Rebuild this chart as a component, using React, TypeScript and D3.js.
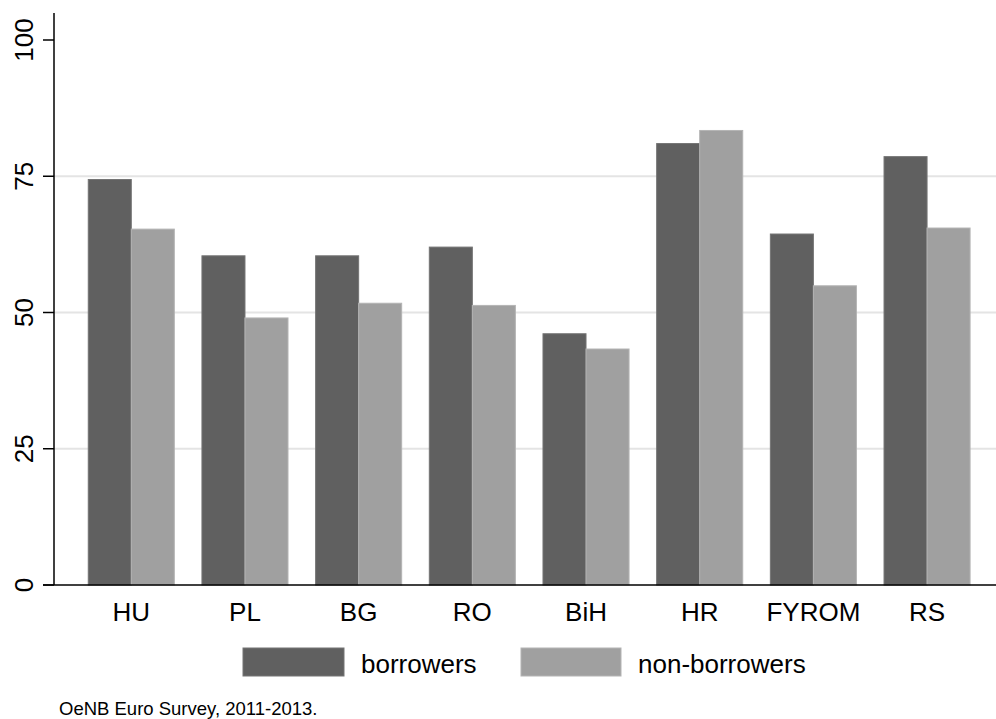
import React from "react";
import * as d3 from "d3";

const categories = ["HU", "PL", "BG", "RO", "BiH", "HR", "FYROM", "RS"];
const borrowers = [74.4, 60.4, 60.4, 62.0, 46.1, 81.0, 64.4, 78.6];
const nonBorrowers = [65.3, 49.0, 51.7, 51.3, 43.3, 83.4, 54.9, 65.5];
const yTicks = [0, 25, 50, 75, 100];
const gridTicks = [25, 50, 75];
const seriesNames = ["borrowers", "non-borrowers"];
const note = "OeNB Euro Survey, 2011-2013.";

const W = 996;
const H = 719;
const FONT = "'Liberation Sans', Arial, sans-serif";
const DARK = "#606060";
const LIGHT = "#a0a0a0";

export default function App() {
  const axisX = 54;
  const x = d3
    .scaleBand<string>()
    .domain(categories)
    .range([74.45, 983.9])
    .paddingInner(0.243)
    .paddingOuter(0.1215);
  const y = d3.scaleLinear().domain([0, 100]).range([585, 40]);
  const bw = x.bandwidth() / 2;

  return (
    <svg
      width={W}
      height={H}
      style={{ position: "absolute", left: 0, top: 0, background: "#fff" }}
      fontFamily={FONT}
    >
      {gridTicks.map((t) => (
        <line key={t} x1={axisX} x2={W} y1={y(t)} y2={y(t)} stroke="#e4e4e4" strokeWidth={2} />
      ))}
      {categories.map((c, i) => {
        const x0 = x(c)!;
        return (
          <g key={c}>
            <rect
              x={x0}
              y={y(borrowers[i])}
              width={bw}
              height={y(0) - y(borrowers[i])}
              fill={DARK}
              stroke="#747474"
              strokeWidth={1}
            />
            <rect
              x={x0 + bw}
              y={y(nonBorrowers[i])}
              width={bw}
              height={y(0) - y(nonBorrowers[i])}
              fill={LIGHT}
              stroke="#b4b4b4"
              strokeWidth={1}
            />
            <text x={x0 + x.bandwidth() / 2} y={621} fontSize={26} textAnchor="middle" fill="#000">
              {c}
            </text>
          </g>
        );
      })}
      <line x1={axisX} x2={axisX} y1={13} y2={y(0)} stroke="#000" strokeWidth={1.5} />
      <line x1={43} x2={W} y1={y(0)} y2={y(0)} stroke="#000" strokeWidth={1.5} />
      {yTicks.map((t) => (
        <g key={t}>
          <line x1={43} x2={axisX} y1={y(t)} y2={y(t)} stroke="#000" strokeWidth={1.5} />
          <text
            transform={`translate(33,${y(t)}) rotate(-90)`}
            fontSize={26}
            textAnchor="middle"
            fill="#000"
          >
            {t}
          </text>
        </g>
      ))}
      <rect x={243} y={648} width={101} height={28} fill={DARK} stroke="#747474" strokeWidth={1} />
      <text x={361} y={673} fontSize={26} fill="#000">
        {seriesNames[0]}
      </text>
      <rect x={521} y={648} width={100} height={28} fill={LIGHT} stroke="#b4b4b4" strokeWidth={1} />
      <text x={638} y={673} fontSize={26} fill="#000">
        {seriesNames[1]}
      </text>
      <text x={59} y={715} fontSize={18.5} fill="#000">
        {note}
      </text>
    </svg>
  );
}
